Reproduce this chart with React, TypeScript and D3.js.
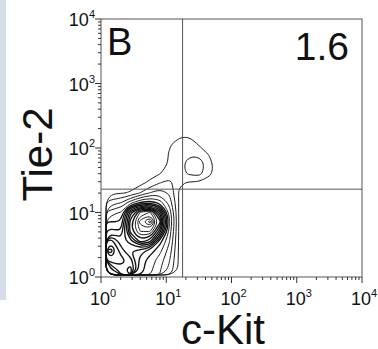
import React from "react";
import * as d3 from "d3";

// axis decades (10^0 .. 10^4) shared by both axes
const decades = [0, 1, 2, 3, 4];
const xTitle = "c-Kit";
const yTitle = "Tie-2";
const panelLabel = "B";
const quadrantPercent = "1.6";

// quadrant gate positions (linear units)
const gateX = 17.8;
const gateY = 23;

// contour density levels, on a log grid
// columns: log10(c-Kit) from gridX0 in gridStep steps, rows: log10(Tie-2), top row first
const gridStep = 0.15;
const gridX0 = 0.077;
const gridY0 = 0.031;
const densityRows = [
  [0, 0, 0, 0, 0, 0, 0, 0, 0, 0, 0, 0, 0],
  [0, 0, 0, 0, 0, 0, 0, 0.3, 0.35, 0, 0, 0, 0],
  [0, 0, 0, 0, 0, 0, 0.4, 1.0, 1.1, 0.4, 0, 0, 0],
  [0, 0, 0, 0, 0, 0, 0.6, 1.3, 1.3, 1.2, 0.45, 0, 0],
  [0, 0, 0, 0, 0, 0, 0.6, 1.1, 2.0, 2.3, 0.85, 0, 0],
  [0, 0, 0, 0, 0, 0.45, 1.0, 1.1, 1.7, 1.9, 0.75, 0, 0],
  [0, 0, 0, 0.2, 0.8, 1.5, 1.8, 0.7, 0.3, 0.3, 0, 0, 0],
  [0.3, 0.35, 0.6, 1.5, 2.5, 3, 2.3, 0.3, 0, 0, 0, 0, 0],
  [2.0, 2.4, 4, 5.5, 6, 5, 3, 0.3, 0, 0, 0, 0, 0],
  [4.0, 4.5, 10, 13.5, 14.5, 10, 4, 0.2, 0, 0, 0, 0, 0],
  [5.5, 5.5, 12, 16, 18, 13, 4.5, 0.2, 0, 0, 0, 0, 0],
  [7, 6.5, 12, 14.5, 14.5, 10, 4, 0.2, 0, 0, 0, 0, 0],
  [10, 8, 9, 12, 11, 6, 3.5, 0.2, 0, 0, 0, 0, 0],
  [12, 9, 7.5, 7, 6, 4.8, 3, 0.2, 0, 0, 0, 0, 0],
  [10, 10, 9, 6, 5, 4, 2.5, 0.2, 0, 0, 0, 0, 0],
  [7, 9, 10, 6, 4.8, 3.6, 2.2, 0.2, 0, 0, 0, 0, 0],
];

const font = "'Liberation Sans', Arial, sans-serif";

export default function App() {
  const width = 378;
  const height = 349;

  const x = d3.scaleLog().domain([1, 1e4]).range([101, 362]);
  const y = d3.scaleLog().domain([1, 1e4]).range([277, 19]);

  const nx = densityRows[0].length;
  const ny = densityRows.length;
  const values = densityRows.slice().reverse().flat();
  const contours = d3
    .contours()
    .size([nx, ny])
    .thresholds(d3.range(0.5, 18, 1))(values);

  // grid coords -> pixels through the log scales
  const gx = (g: number) => x(Math.pow(10, gridX0 + g * gridStep));
  const gy = (g: number) => y(Math.pow(10, gridY0 + g * gridStep));
  const ring = d3.line().curve(d3.curveBasisClosed);

  // the packed levels around the main population print as a thick dark band
  const paths: { d: string; w: number }[] = [];
  contours.forEach((c) => {
    const w = c.value > 5 && c.value < 13 ? 1.35 : 0.95;
    c.coordinates.forEach((poly) => {
      poly.forEach((r) => {
        const pts = r.slice(0, -1).map((p) => [gx(p[0]), gy(p[1])] as [number, number]);
        paths.push({ d: ring(pts) as string, w });
      });
    });
  });

  const majors = decades.map((d) => Math.pow(10, d));
  const minors = decades
    .slice(0, -1)
    .flatMap((d) => d3.range(2, 10).map((k) => k * Math.pow(10, d)));

  const [x0, x1] = x.range();
  const [y0, y1] = y.range();

  return (
    <svg
      width={width}
      height={height}
      style={{ position: "absolute", left: 0, top: 0, background: "#fff" }}
    >
      {/* edge of neighbouring panel */}
      <rect x={0} y={0} width={6} height={300} fill="#c3cfdf" opacity={0.7} />

      {/* contours */}
      <g fill="none" stroke="#111">
        {paths.map((p, i) => (
          <path key={i} d={p.d} strokeWidth={p.w} />
        ))}
      </g>

      {/* frame */}
      <rect
        x={x0}
        y={y1}
        width={x1 - x0}
        height={y0 - y1}
        fill="none"
        stroke="#555"
        strokeWidth={1}
      />

      {/* quadrant gates */}
      <line x1={x(gateX)} x2={x(gateX)} y1={y1} y2={y0} stroke="#555" strokeWidth={1} />
      <line x1={x0} x2={x1} y1={y(gateY)} y2={y(gateY)} stroke="#555" strokeWidth={1} />

      {/* axis ticks */}
      <g stroke="#333" strokeWidth={1}>
        {majors.map((v) => (
          <line key={"xm" + v} x1={x(v)} x2={x(v)} y1={y0} y2={y0 + 6} />
        ))}
        {minors.map((v) => (
          <line key={"xn" + v} x1={x(v)} x2={x(v)} y1={y0} y2={y0 + 3} />
        ))}
        {majors.map((v) => (
          <line key={"ym" + v} x1={x0} x2={x0 - 6} y1={y(v)} y2={y(v)} />
        ))}
        {minors.map((v) => (
          <line key={"yn" + v} x1={x0} x2={x0 - 3} y1={y(v)} y2={y(v)} />
        ))}
      </g>

      {/* tick labels */}
      <g fontFamily={font} fill="#111">
        {decades.map((d) => (
          <text key={"xl" + d} x={x(Math.pow(10, d)) + 2} y={305} fontSize={18} textAnchor="middle">
            10<tspan dy={-8} fontSize={11}>{d}</tspan>
          </text>
        ))}
        {decades.map((d) => (
          <text key={"yl" + d} x={95} y={y(Math.pow(10, d)) + 7} fontSize={18} textAnchor="end">
            10<tspan dy={-8} fontSize={11}>{d}</tspan>
          </text>
        ))}
      </g>

      {/* titles and annotations */}
      <g fontFamily={font} fill="#111">
        <text x={223} y={344} fontSize={42} textAnchor="middle">
          {xTitle}
        </text>
        <text
          transform="translate(52,154.5) rotate(-90)"
          fontSize={42}
          textAnchor="middle"
        >
          {yTitle}
        </text>
        <text x={107} y={55} fontSize={38}>
          {panelLabel}
        </text>
        <text x={349} y={60} fontSize={39} textAnchor="end">
          {quadrantPercent}
        </text>
      </g>
    </svg>
  );
}
